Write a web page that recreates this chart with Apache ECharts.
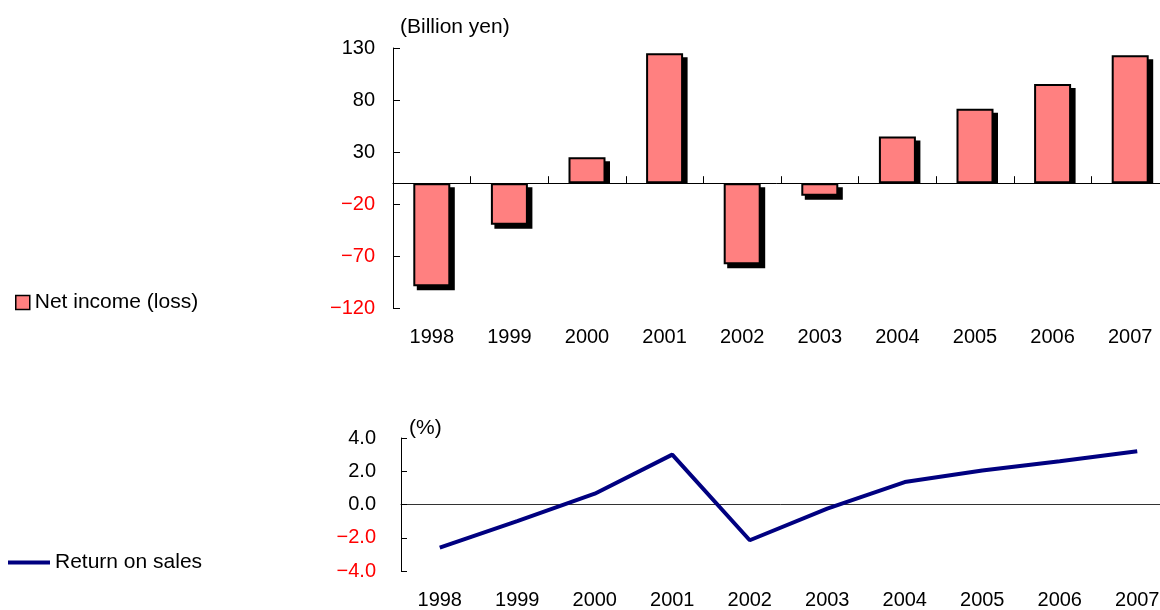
<!DOCTYPE html>
<html>
<head>
<meta charset="utf-8">
<script src="https://cdn.jsdelivr.net/npm/echarts@6/dist/echarts.min.js"></script>
<style>
html,body{margin:0;padding:0;background:#fff;}
#chart{width:1160px;height:610px;}
</style>
</head>
<body>
<div id="chart"></div>
<script>
var years = ['1998','1999','2000','2001','2002','2003','2004','2005','2006','2007'];
var netIncome = [-99, -40, 25, 125, -78, -12, 45, 71.5, 95.5, 123];
var returnOnSales = [-2.6, -1.0, 0.65, 3.0, -2.15, -0.25, 1.35, 2.05, 2.6, 3.2];
var incomeTicks = {min: -120, max: 130, interval: 50};
var rosTicks = {min: -4, max: 4, interval: 2};

var FONT = 'Liberation Sans';
var BAR_W = 37;

function negRed(v){ return Number(v) < 0 ? '#FF0000' : '#000000'; }
function minus(s){ return String(s).replace('-', '\u2212'); }

var chart = echarts.init(document.getElementById('chart'), null, {renderer:'canvas'});

var option = {
  animation: false,
  backgroundColor: '#ffffff',
  textStyle: {fontFamily: FONT},
  grid: [
    {left: 393, top: 48, width: 776, height: 260, outerBoundsMode: 'none', containLabel: false},
    {left: 401, top: 438, width: 775, height: 133, outerBoundsMode: 'none', containLabel: false}
  ],
  graphic: [
    {type:'text', left: 400, top: 17, style:{text:'(Billion yen)', font:'21px "' + FONT + '"', fill:'#000'}},
    {type:'text', left: 409, top: 418, style:{text:'(%)', font:'21px "' + FONT + '"', fill:'#000'}}
  ],
  legend: [
    {
      left: 10, top: 287, orient:'vertical', selectedMode:false, padding: 5,
      itemWidth: 14, itemHeight: 14,
      textStyle:{fontFamily: FONT, fontSize: 21, color:'#000'},
      data:[{name:'Net income (loss)', icon:'rect', itemStyle:{color:'#FF8080', borderColor:'#000', borderWidth:1.5}}]
    },
    {
      left: 3, top: 547, orient:'vertical', selectedMode:false, padding: 5,
      itemWidth: 42, itemHeight: 4,
      textStyle:{fontFamily: FONT, fontSize: 21, color:'#000'},
      data:[{name:'Return on sales', icon:'rect', itemStyle:{color:'#000080', borderWidth:0}}]
    }
  ],
  xAxis: [
    {
      gridIndex: 0, type:'category', data: years, position:'bottom',
      axisLine:{show:false, onZero:false}, axisTick:{show:false},
      axisLabel:{fontFamily: FONT, fontSize: 20, color:'#000', margin: 19, interval: 0}
    },
    {
      gridIndex: 0, type:'category', data: years, position:'top',
      axisLine:{show:true, onZero:true, lineStyle:{color:'#000', width:1}},
      axisTick:{show:true, inside:false, length:7, lineStyle:{color:'#000'}},
      axisLabel:{show:false}
    },
    {
      gridIndex: 1, type:'category', data: years, position:'bottom', boundaryGap:true,
      axisLine:{show:false, onZero:false}, axisTick:{show:false},
      axisLabel:{fontFamily: FONT, fontSize: 20, color:'#000', margin: 19, interval: 0}
    },
    {
      gridIndex: 1, type:'category', data: years, position:'top',
      axisLine:{show:true, onZero:true, lineStyle:{color:'#333', width:1}},
      axisTick:{show:false},
      axisLabel:{show:false}
    }
  ],
  yAxis: [
    {
      gridIndex: 0, type:'value', min: incomeTicks.min, max: incomeTicks.max, interval: incomeTicks.interval,
      axisLine:{show:true, lineStyle:{color:'#000'}},
      axisTick:{show:true, inside:true, length:7, lineStyle:{color:'#000'}},
      splitLine:{show:false},
      axisLabel:{fontFamily: FONT, fontSize: 20, margin: 18, color: negRed, formatter: function(v){ return minus(v); }}
    },
    {
      gridIndex: 1, type:'value', min: rosTicks.min, max: rosTicks.max, interval: rosTicks.interval,
      axisLine:{show:true, lineStyle:{color:'#000'}},
      axisTick:{show:true, inside:true, length:6, lineStyle:{color:'#000'}},
      splitLine:{show:false},
      axisLabel:{fontFamily: FONT, fontSize: 20, margin: 25, color: negRed, formatter: function(v){ return minus(Number(v).toFixed(1)); }}
    }
  ],
  series: [
    {
      name: 'shadow', type: 'custom', xAxisIndex: 0, yAxisIndex: 0, silent: true,
      data: netIncome.map(function(v, i){ return [i, v]; }),
      renderItem: function(params, api){
        var i = api.value(0), v = api.value(1);
        var p = api.coord([i, v]);
        var z = api.coord([i, 0]);
        var off = 4, w = BAR_W + 1;
        var x = p[0] - w / 2 + off;
        var y, h;
        if (v >= 0) { y = p[1] + off; h = z[1] - y; }
        else { y = z[1] + off; h = p[1] + off - y; }
        return {type:'rect', shape:{x:x, y:y, width:w, height:Math.max(h,0)}, style:{fill:'#000'}};
      },
      z: 1
    },
    {
      name: 'Net income (loss)', type: 'bar', xAxisIndex: 0, yAxisIndex: 0,
      data: netIncome, barWidth: BAR_W,
      itemStyle:{color:'#FF8080', borderColor:'#000', borderWidth:2},
      z: 2
    },
    {
      name: 'Return on sales', type: 'line', xAxisIndex: 2, yAxisIndex: 1,
      data: returnOnSales, symbol:'none', showSymbol:false,
      lineStyle:{color:'#000080', width:4},
      itemStyle:{color:'#000080'},
      z: 3
    }
  ]
};
chart.setOption(option);
</script>
</body>
</html>
